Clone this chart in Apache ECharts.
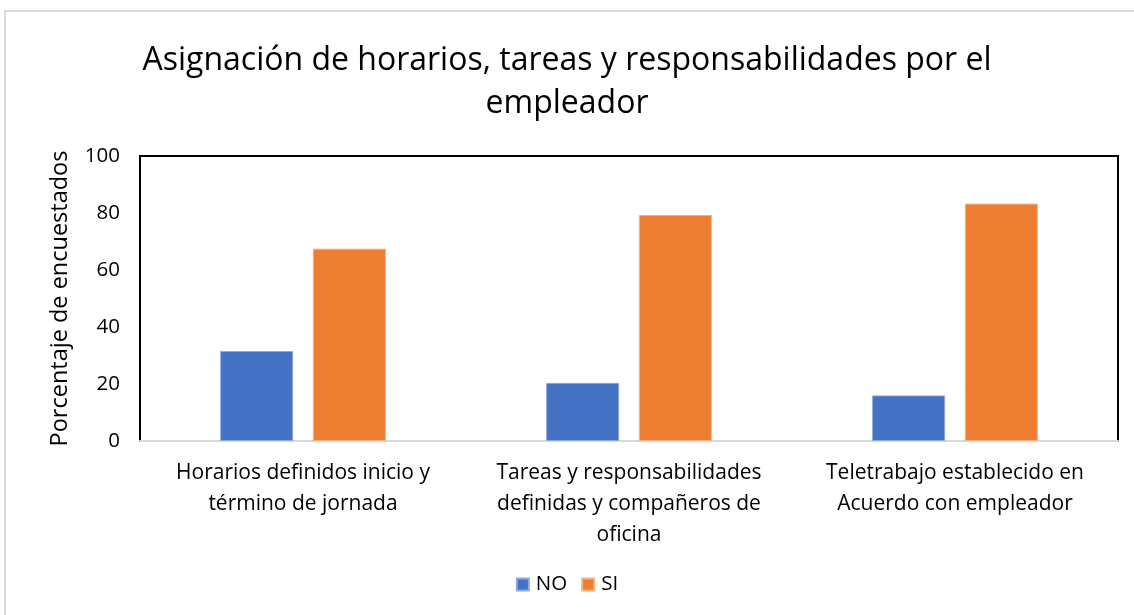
<!DOCTYPE html>
<html>
<head>
<meta charset="utf-8">
<script src="https://cdn.jsdelivr.net/npm/echarts@6/dist/echarts.min.js"></script>
<style>
  html, body { margin: 0; padding: 0; background: #fff; }
  #frame { position: absolute; left: 4px; top: 10px; width: 1140px; height: 620px; border: 2px solid #d9d9d9; box-sizing: border-box; }
  #chart { position: absolute; left: 0; top: 0; width: 1134px; height: 615px; }
</style>
</head>
<body>
<div id="frame"></div>
<div id="chart"></div>
<script>
// valores
const categories = [
  'Horarios definidos inicio y\ntérmino de jornada',
  'Tareas y responsabilidades\ndefinidas y compañeros de\noficina',
  'Teletrabajo establecido en\nAcuerdo con empleador',
]
const noValues = [31.6, 20.4, 16.0]
const siValues = [67.5, 79.3, 83.3]
const yTicks = [0, 20, 40, 60, 80, 100]

const FONT = '"Open Sans", "Noto Sans", sans-serif'

const chart = echarts.init(document.getElementById('chart'), null, { renderer: 'canvas' })

chart.setOption({
  backgroundColor: 'transparent',
  animation: false,
  title: {
    text: 'Asignación de horarios, tareas y responsabilidades por el\nempleador',
    left: 'center',
    top: 34,
    textStyle: { fontFamily: FONT, fontSize: 32, fontWeight: 'normal', color: '#000', lineHeight: 43 },
  },
  legend: {
    bottom: 15,
    left: 'center',
    itemWidth: 12,
    itemHeight: 12,
    itemGap: 14,
    icon: 'rect',
    textStyle: { fontFamily: FONT, fontSize: 20.5, color: '#000', padding: [0, 0, 0, 2] },
    data: ['NO', 'SI'],
  },
  grid: {
    left: 140,
    right: 16,
    top: 156,
    bottom: 174,
    show: true,
    borderColor: '#000',
    borderWidth: 2,
  },
  xAxis: {
    type: 'category',
    data: categories,
    axisLine: { lineStyle: { color: '#d9d9d9', width: 2 } },
    axisTick: { show: false },
    axisLabel: {
      fontFamily: FONT,
      fontSize: 21,
      color: '#000',
      lineHeight: 31,
      margin: 17,
      interval: 0,
    },
  },
  yAxis: {
    type: 'value',
    min: yTicks[0],
    max: yTicks[yTicks.length - 1],
    interval: 20,
    name: 'Porcentaje de encuestados',
    nameLocation: 'middle',
    nameGap: 68,
    nameTextStyle: { fontFamily: FONT, fontSize: 23.5, color: '#000' },
    axisLine: { show: true, lineStyle: { color: '#000', width: 2 } },
    axisTick: { show: false },
    splitLine: { show: false },
    axisLabel: { fontFamily: FONT, fontSize: 20.5, color: '#000', margin: 20 },
  },
  series: [
    {
      name: 'NO',
      type: 'bar',
      data: noValues,
      barWidth: 73,
      barGap: '27%',
      itemStyle: { color: '#4472c4', borderColor: '#8faadc', borderWidth: 1 },
    },
    {
      name: 'SI',
      type: 'bar',
      data: siValues,
      barWidth: 73,
      itemStyle: { color: '#ed7d31', borderColor: '#f4b183', borderWidth: 1 },
    },
  ],
})
</script>
</body>
</html>
